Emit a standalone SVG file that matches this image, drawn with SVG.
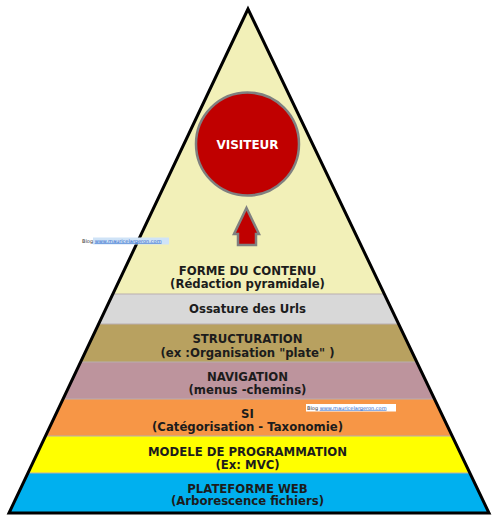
<svg xmlns="http://www.w3.org/2000/svg" width="500" height="521" viewBox="0 0 500 521">
<style>
.lbl{font-family:"DejaVu Sans","Liberation Sans",sans-serif;font-weight:bold;font-size:11.7px;fill:#1c1c1c;text-anchor:middle}
.sep{stroke:#b9aeb0;stroke-width:1;fill:none}
.wm{font-family:"DejaVu Sans","Liberation Sans",sans-serif;font-size:5px}
.sq{stroke:#e02020;stroke-width:0.8;stroke-dasharray:1 1;fill:none}
</style>
<defs>
<clipPath id="tri"><polygon points="248,9 9,513 489,513"/></clipPath>
</defs>
<rect width="500" height="521" fill="#ffffff"/>
<g clip-path="url(#tri)">
<g id="forme"><rect x="0" y="0" width="500" height="294" fill="#F2F0B8"/></g>
<g id="ossature"><rect x="0" y="294" width="500" height="30" fill="#D8D8D8"/></g>
<g id="structuration"><rect x="0" y="324" width="500" height="38" fill="#B8A160"/></g>
<g id="navigation"><rect x="0" y="362" width="500" height="37" fill="#BD949D"/></g>
<g id="si"><rect x="0" y="399" width="500" height="37" fill="#F79646"/></g>
<g id="modele"><rect x="0" y="436" width="500" height="37" fill="#FFFF00"/></g>
<g id="plateforme"><rect x="0" y="473" width="500" height="41" fill="#00B0EF"/></g>
<g class="sep">
<line x1="0" y1="294" x2="500" y2="294"/>
<line x1="0" y1="324" x2="500" y2="324"/>
<line x1="0" y1="362" x2="500" y2="362"/>
<line x1="0" y1="399" x2="500" y2="399"/>
<line x1="0" y1="436" x2="500" y2="436"/>
<line x1="0" y1="473" x2="500" y2="473"/>
</g>
</g>
<polygon points="248,9 9,513 489,513" fill="none" stroke="#000" stroke-width="3" stroke-linejoin="miter"/>
<g id="visiteur">
<circle cx="247.5" cy="144" r="51.5" fill="#C00000" stroke="#808080" stroke-width="2.5"/>
<text x="247.5" y="148.5" style="font-family:'DejaVu Sans','Liberation Sans',sans-serif;font-weight:bold;font-size:12px;fill:#fff;text-anchor:middle">VISITEUR</text>
</g>
<g id="connectors">
<polygon points="246.5,208 259,234 256,234 256,245 238,245 238,234 234,234" fill="#C00000" stroke="#808080" stroke-width="2.5" stroke-linejoin="miter"/>
</g>
<g id="labels">
<text class="lbl" x="247.5" y="275">FORME DU CONTENU</text>
<text class="lbl" x="247.5" y="288">(Rédaction pyramidale)</text>
<text class="lbl" x="247.5" y="312.5">Ossature des Urls</text>
<text class="lbl" x="247.5" y="343">STRUCTURATION</text>
<text class="lbl" x="247.5" y="356.5">(ex :Organisation "plate" )</text>
<text class="lbl" x="247.5" y="381">NAVIGATION</text>
<text class="lbl" x="247.5" y="393.5">(menus -chemins)</text>
<text class="lbl" x="247.5" y="418">SI</text>
<text class="lbl" x="247.5" y="431">(Catégorisation - Taxonomie)</text>
<text class="lbl" x="247.5" y="455.5">MODELE DE PROGRAMMATION</text>
<text class="lbl" x="247.5" y="468.5">(Ex: MVC)</text>
<text class="lbl" x="247.5" y="492.5">PLATEFORME WEB</text>
<text class="lbl" x="247.5" y="505">(Arborescence fichiers)</text>
</g>
<g id="watermark1">
<rect x="93" y="237.5" width="76" height="7" fill="#CFE3F7"/>
<text class="wm" x="82" y="242.5" fill="#333">Blog <tspan fill="#1F5FC8" text-decoration="underline">www.mauricelargeron.com</tspan></text>
</g>
<g id="watermark2">
<rect x="306" y="404" width="90" height="7.5" fill="#ffffff"/>
<text class="wm" x="307" y="409.5" fill="#333">Blog <tspan fill="#1F5FC8" text-decoration="underline">www.mauricelargeron.com</tspan></text>
</g>
</svg>
